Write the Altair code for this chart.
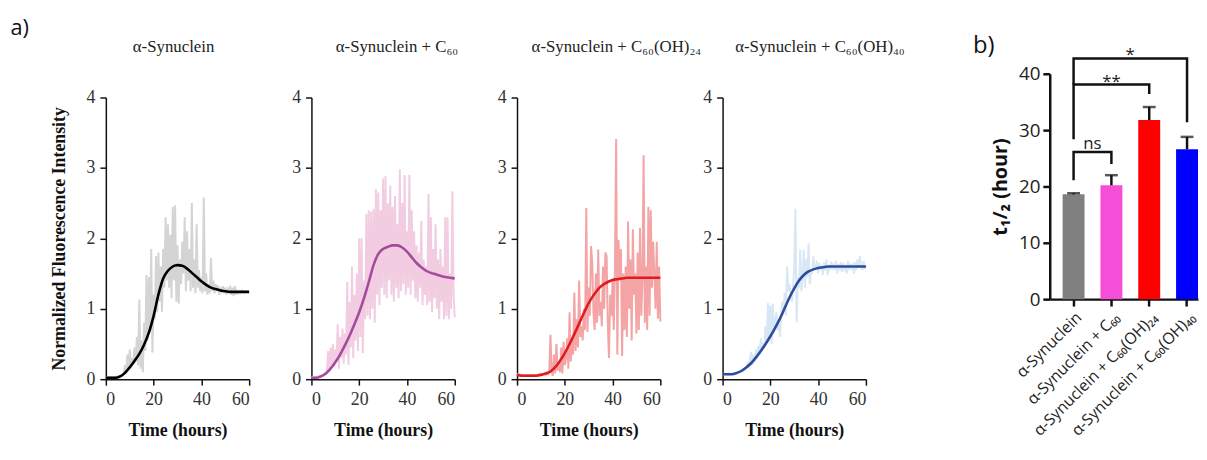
import altair as alt
import pandas as pd

# ---------------- data: kinetics (panel a) ----------------
t_noise = [i * 0.5 for i in range(121)]
t_fit = [i * 2 for i in range(31)]

noise_syn = [0.03,0.02,0.03,0.02,0.03,0.03,0.02,0.03,0.03,0.04,0.03,0.05,0.04,0.06,0.05,0.08,
             0.20,0.08,0.35,0.12,0.42,0.15,0.30,0.22,0.45,
             0.25,0.60,0.20,1.13,0.15,0.55,0.10,0.80,
             0.40,1.48,0.55,1.45,0.70,1.85,0.38,1.20,
             0.85,1.75,0.95,1.80,1.10,1.60,0.95,1.85,
             1.30,2.30,1.40,2.20,1.30,2.05,1.15,2.45,
             1.40,2.47,1.10,1.90,1.07,1.70,1.35,1.95,
             1.50,2.30,1.25,2.10,1.40,1.85,1.25,2.50,
             1.30,1.70,1.22,2.20,1.30,1.55,1.25,1.45,
             1.22,2.58,1.25,1.50,1.20,1.35,1.22,1.72,
             1.25,1.40,1.22,1.35,1.28,1.33,1.20,1.30,
             1.25,1.32,1.22,1.30,1.20,1.27,1.22,1.33,
             1.20,1.30,1.18,1.32,1.20,1.25,
             1.22,1.25,1.23,1.26,1.24,1.23,1.25,1.24,1.24,1.24]
fit_syn = [0.02,0.02,0.02,0.04,0.09,0.17,0.26,0.36,0.49,0.66,0.90,1.20,1.43,1.54,1.60,1.62,
           1.61,1.57,1.51,1.45,1.39,1.34,1.30,1.28,1.26,1.25,1.24,1.24,1.24,1.24,1.24]

noise_c60 = [0.02,0.03,0.02,0.03,0.03,0.04,0.03,0.05,0.04,0.06,0.05,0.08,0.07,0.12,
             0.40,0.15,0.45,0.20,0.50,0.18,0.42,0.25,0.78,0.15,0.60,
             0.30,0.72,0.22,0.65,0.35,1.38,0.20,1.10,
             0.45,1.60,0.30,1.20,0.55,1.50,0.40,2.00,
             0.60,2.00,0.37,1.40,0.85,2.35,0.90,2.40,
             0.85,2.38,1.00,2.42,0.80,2.70,1.20,2.65,
             1.05,2.40,1.30,2.85,1.20,2.88,1.15,2.50,
             1.40,2.75,1.20,2.45,1.10,2.60,1.30,2.20,
             1.15,2.98,1.25,2.50,1.35,2.90,1.20,2.10,
             1.30,2.90,1.20,2.40,1.40,2.10,1.15,1.90,
             1.10,1.80,1.30,2.25,1.05,1.70,1.20,1.60,
             1.05,2.63,1.10,2.30,0.95,1.85,1.15,2.20,
             1.00,1.70,0.85,1.85,1.10,1.60,0.85,2.30,
             0.90,2.30,0.85,1.50,1.00,2.67,1.20,0.88]
fit_c60 = [0.02,0.02,0.04,0.08,0.15,0.24,0.35,0.48,0.62,0.78,0.95,1.15,1.38,1.62,1.78,1.85,
           1.88,1.90,1.90,1.87,1.81,1.73,1.65,1.59,1.54,1.51,1.49,1.47,1.45,1.44,1.43]

noise_oh24 = [0.08,0.06,0.07,0.05,0.06,0.05,0.06,0.05,0.05,0.06,0.05,0.06,0.05,0.06,0.05,0.06,
              0.06,0.05,0.07,0.06,0.08,0.06,0.07,0.08,0.06,0.09,0.07,0.10,
              0.63,0.10,0.05,0.35,0.08,0.50,0.12,0.25,0.10,0.45,0.08,0.53,0.20,
              0.30,0.58,0.15,0.95,0.25,0.55,0.35,1.23,
              0.40,0.85,0.45,1.40,0.60,0.75,0.55,1.00,
              0.70,2.43,0.67,1.30,0.90,1.89,1.65,0.95,
              0.70,1.50,0.80,1.84,0.90,1.10,0.75,1.60,
              1.00,1.80,1.75,0.80,0.30,1.20,0.90,1.40,
              0.70,1.60,3.41,0.35,1.98,1.40,1.85,0.33,
              1.50,0.70,1.60,0.60,2.24,1.00,1.70,0.55,
              2.13,1.20,1.50,0.65,1.80,0.70,2.15,0.90,
              1.40,3.18,0.80,1.60,0.70,2.45,0.90,2.40,
              1.30,1.95,1.50,1.00,1.95,0.86,1.60,0.82]
fit_oh24 = [0.06,0.05,0.05,0.05,0.05,0.06,0.08,0.11,0.17,0.26,0.37,0.50,0.64,0.79,0.94,1.08,
            1.19,1.28,1.34,1.38,1.41,1.42,1.43,1.44,1.44,1.44,1.44,1.44,1.44,1.44,1.44]

noise_oh40 = [0.07,0.07,0.08,0.07,0.07,0.08,0.07,0.08,0.08,0.09,0.08,0.09,0.10,0.09,0.11,0.10,
              0.12,0.11,0.13,0.14,
              0.15,0.22,0.18,0.30,0.39,0.20,0.35,0.25,0.42,
              0.30,0.48,0.35,0.58,0.40,0.52,0.45,0.75,
              0.55,1.08,0.60,1.05,0.50,1.07,0.65,0.85,
              0.95,0.70,0.80,0.60,0.90,1.10,1.00,1.23,
              0.90,1.60,1.25,1.35,1.20,1.10,1.30,1.60,
              2.42,0.81,1.45,1.30,1.84,1.25,1.45,1.84,
              1.30,1.70,1.45,1.93,1.35,1.55,1.50,1.75,
              1.55,1.60,1.68,1.50,1.65,1.55,1.62,1.48,
              1.66,1.55,1.70,1.48,1.62,1.55,1.67,1.58,
              1.62,1.55,1.68,1.50,1.63,1.58,1.66,1.52,
              1.65,1.57,1.62,1.50,1.68,1.55,1.64,1.58,
              1.62,1.50,1.66,1.55,1.70,1.58,1.75,1.60,
              1.55,1.68,1.56,1.62]
fit_oh40 = [0.07,0.07,0.07,0.09,0.12,0.17,0.23,0.31,0.40,0.50,0.61,0.73,0.86,1.01,1.16,1.29,
            1.40,1.48,1.53,1.56,1.58,1.59,1.60,1.60,1.60,1.60,1.60,1.60,1.60,1.60,1.60]

panel_titles = ["α-Synuclein", "α-Synuclein + C₆₀", "α-Synuclein + C₆₀(OH)₂₄", "α-Synuclein + C₆₀(OH)₄₀"]
noise_colors = ["#d4d4d4", "#f2cde2", "#f4a4a4", "#d8e7f6"]
fit_colors = ["#000000", "#a64a9e", "#e01b1d", "#2e4c9c"]
title_dx = [-4, 14, 28, 26]

# ---------------- data: t1/2 bar chart (panel b) ----------------
groups = ["α-Synuclein", "α-Synuclein + C₆₀", "α-Synuclein + C₆₀(OH)₂₄", "α-Synuclein + C₆₀(OH)₄₀"]
t_half = [18.6, 20.2, 31.8, 26.6]
t_half_sd = [0.2, 1.8, 2.3, 2.2]
bar_colors = ["#808080", "#f44fd6", "#ff0000", "#0000ff"]

bracket_id = ["ns"] * 4 + ["dd"] * 4 + ["d"] * 4
bracket_seq = [0, 1, 2, 3] * 3
bracket_group = [groups[0], groups[0], groups[1], groups[1],
                 groups[0], groups[0], groups[2], groups[2],
                 groups[0], groups[0], groups[3], groups[3]]
bracket_val = [21.1, 26.1, 26.1, 24.0,
               28.4, 38.1, 38.1, 36.4,
               38.1, 42.7, 42.7, 31.4]

SERIF = "Liberation Serif"
SANS = "Open Sans"


def kinetics_panel(i, noise, fit, first):
    df_n = pd.DataFrame({"t": t_noise, "v": noise})
    df_f = pd.DataFrame({"t": t_fit, "v": fit})
    x_axis = alt.Axis(values=[0, 20, 40, 60], title="Time (hours)", titleFont=SERIF,
                      titleFontSize=18, titleFontWeight="bold", titleColor="#111",
                      titlePadding=13, labelFont=SERIF, labelFontSize=18,
                      labelColor="#333", labelPadding=6, tickSize=6, tickWidth=1.5,
                      tickColor="#111", domainColor="#111", domainWidth=1.5, grid=False)
    y_axis = alt.Axis(values=[0, 1, 2, 3, 4],
                      title="Normalized Fluorescence Intensity" if first else None,
                      titleFont=SERIF, titleFontSize=18, titleFontWeight="bold",
                      titleColor="#111", titlePadding=18, labelFont=SERIF,
                      labelFontSize=18, labelColor="#333", labelPadding=5, tickSize=6,
                      tickWidth=1.5, tickColor="#111", domainColor="#111",
                      domainWidth=1.5, grid=False)
    x = alt.X("t:Q", scale=alt.Scale(domain=[0, 60], nice=False), axis=x_axis)
    y = alt.Y("v:Q", scale=alt.Scale(domain=[0, 4], nice=False), axis=y_axis)
    noise_line = alt.Chart(df_n).mark_line(color=noise_colors[i], strokeWidth=2).encode(x=x, y=y)
    fit_line = alt.Chart(df_f).mark_line(color=fit_colors[i], strokeWidth=2.6,
                                         interpolate="monotone").encode(x=x, y=y)
    return alt.layer(noise_line, fit_line).properties(
        width=145, height=285,
        title=alt.TitleParams(panel_titles[i], font=SERIF, fontSize=17,
                              fontWeight="normal", color="#222", anchor="middle",
                              frame="group", offset=33, dx=title_dx[i]))


panels = [
    kinetics_panel(0, noise_syn, fit_syn, True),
    kinetics_panel(1, noise_c60, fit_c60, False),
    kinetics_panel(2, noise_oh24, fit_oh24, False),
    kinetics_panel(3, noise_oh40, fit_oh40, False),
]

part_a = alt.hconcat(*panels, spacing=63, bounds="flush").properties(
    title=alt.TitleParams("a)", font=SANS, fontSize=22, fontWeight="normal",
                          color="#111", anchor="start", dx=-40, offset=-2))

# ---------------- bar chart ----------------
bar_df = pd.DataFrame({"group": groups, "mean": t_half, "sd": t_half_sd})
br_df = pd.DataFrame({"bracket": bracket_id, "seq": bracket_seq,
                      "group": bracket_group, "val": bracket_val})

BAR_H = 204
xb = alt.X("group:N", sort=groups,
           scale=alt.Scale(domain=groups, paddingInner=0.42, paddingOuter=0.17, align=1),
           axis=alt.Axis(title=None, labelAngle=-45, labelFont=SANS, labelFontSize=16,
                         labelColor="#222", labelPadding=3, tickSize=7, tickWidth=2.5,
                         tickColor="#111", domainColor="#111", domainWidth=2.5,
                         labelLimit=400))
yb_scale = alt.Scale(domain=[0, 40], nice=False, range=[BAR_H, -24])
yb_axis = alt.Axis(values=[0, 10, 20, 30, 40], title="t₁/₂ (hour)", titleFont=SANS,
                   titleFontSize=20, titleFontWeight="bold", titleColor="#111",
                   titlePadding=8, labelFont=SANS, labelFontSize=19, labelColor="#222",
                   labelPadding=3, tickSize=7, tickWidth=2.5, tickColor="#111",
                   domainColor="#111", domainWidth=2.5, grid=False)

bars = alt.Chart(bar_df).mark_bar().encode(
    x=xb,
    y=alt.Y("mean:Q", scale=yb_scale, axis=yb_axis),
    color=alt.Color("group:N", scale=alt.Scale(domain=groups, range=bar_colors), legend=None),
)
base_err = alt.Chart(bar_df).transform_calculate(top="datum.mean + datum.sd")
err_rule = base_err.mark_rule(color="#111", strokeWidth=2.5).encode(
    x=xb, y=alt.Y("mean:Q", scale=yb_scale), y2="top:Q")
err_cap = base_err.mark_tick(color="#111", thickness=2.5, size=13, orient="horizontal").encode(
    x=xb, y=alt.Y("top:Q", scale=yb_scale))
brackets = alt.Chart(br_df).mark_line(color="#111", strokeWidth=2.5).encode(
    x=xb, y=alt.Y("val:Q", scale=yb_scale), detail="bracket:N", order="seq:Q")

ns_df = pd.DataFrame({"group": [groups[0]], "val": [27.6], "label": ["ns"]})
dd_df = pd.DataFrame({"group": [groups[1]], "val": [38.6], "label": ["**"]})
d_df = pd.DataFrame({"group": [groups[1]], "val": [43.4], "label": ["*"]})
txt_ns = alt.Chart(ns_df).mark_text(font=SANS, fontSize=17, color="#222", dx=19,
                                    baseline="middle").encode(
    x=xb, y=alt.Y("val:Q", scale=yb_scale), text="label:N")
txt_dd = alt.Chart(dd_df).mark_text(font=SANS, fontSize=17, color="#222",
                                    baseline="middle").encode(
    x=xb, y=alt.Y("val:Q", scale=yb_scale), text="label:N")
txt_d = alt.Chart(d_df).mark_text(font=SANS, fontSize=17, color="#222", dx=19,
                                  baseline="middle").encode(
    x=xb, y=alt.Y("val:Q", scale=yb_scale), text="label:N")

part_b = alt.layer(bars, err_rule, err_cap, brackets, txt_ns, txt_dd, txt_d).properties(
    width=150, height=BAR_H,
    title=alt.TitleParams("b)", font=SANS, fontSize=24, fontWeight="normal",
                          color="#111", anchor="start", frame="bounds", dx=-18,
                          offset=0, dy=12))

chart = alt.concat(part_a, part_b, columns=2, align="none", spacing=67).properties(
    padding={"left": 2, "top": 6, "right": 0, "bottom": 0}, background="white"
).configure_view(stroke="transparent").configure_axis(grid=False)

chart.save("out.html", embed_options={"renderer": "svg", "actions": False})
